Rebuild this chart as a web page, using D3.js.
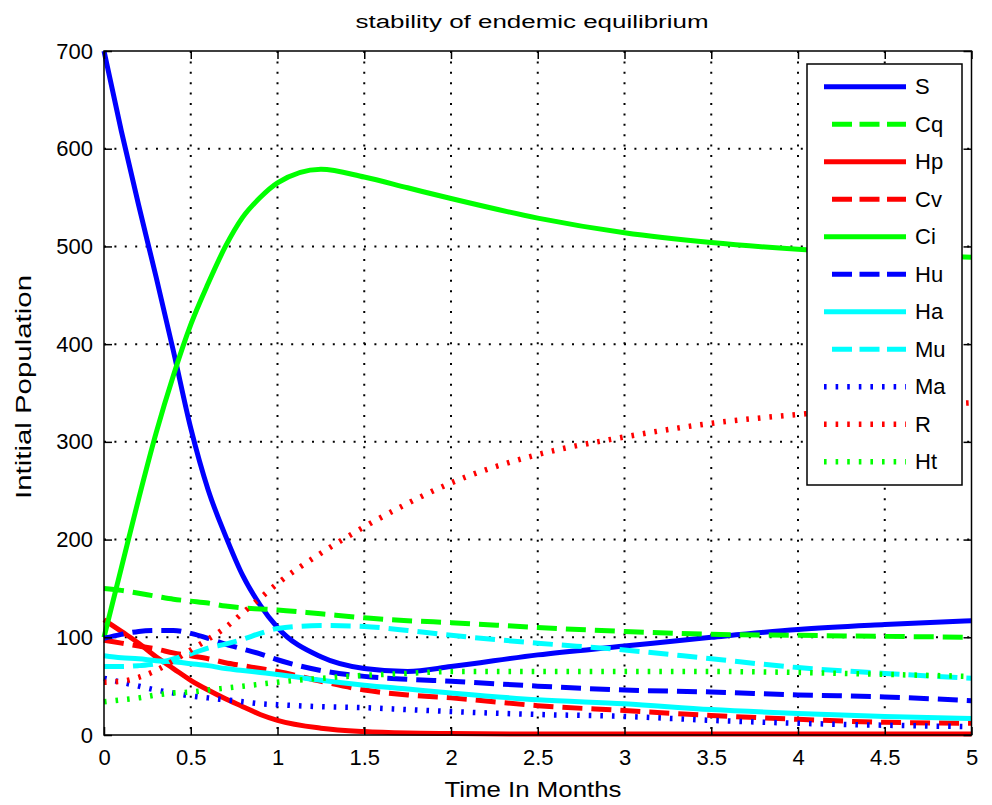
<!DOCTYPE html>
<html>
<head>
<meta charset="utf-8">
<script src="https://cdn.jsdelivr.net/npm/d3@7"></script>
<style>
body { margin: 0; background: #fff; }
text { font-family: "Liberation Sans", Arial, sans-serif; fill: #000; }
</style>
</head>
<body>
<div id="chart"></div>
<script>
// time grid (months) and the curves
const T  = [0, 0.1, 0.2, 0.3, 0.4, 0.5, 0.6, 0.7, 0.8, 0.9, 1, 1.25, 1.5, 1.75, 2, 2.5, 3, 3.5, 4, 4.5, 5]
const S  = [700, 618, 542, 469, 393, 314, 251, 204, 163, 133, 110, 80, 68, 65, 70, 82, 91, 100, 108, 113, 117]
const Cq = [150, 148, 145, 142, 139, 137, 135, 132, 130, 129, 128, 124, 120, 117, 115, 110, 106, 103, 102, 101, 100]
const Hp = [118, 106, 94, 80, 68, 56, 46, 37, 29, 21, 15, 7, 3.5, 2, 1.5, 1, 1, 1, 1, 1, 1]
const Cv = [97, 94, 91, 88, 84, 81, 78, 74, 71, 68, 65, 55, 46, 41, 38, 30, 25, 20, 16, 13, 12]
const Ci = [100, 171, 242, 309, 368, 420, 462, 500, 530, 550, 565, 579, 571, 560, 549, 529, 514, 504, 497, 492, 489]
const Hu = [99, 103, 106, 107, 107, 104, 99, 93, 88, 83, 77, 66, 60, 57, 55, 50, 46, 44, 41, 39, 35]
const Ha = [81, 79, 78, 76, 75, 73, 71, 68, 66, 64, 62, 56, 51, 47, 43, 36, 32, 26, 22, 19, 17]
const Mu = [70, 70, 71, 73, 78, 83, 89, 93, 98, 104, 109, 112, 111, 107, 102, 94, 87, 78, 69, 63, 58]
const Ma = [58, 54, 50, 46, 43, 40, 38, 36, 34, 32, 31, 29, 28, 26, 24, 21, 19, 15, 12, 10, 8.5]
const R  = [54, 55, 59, 66, 76, 87, 98, 110, 125, 140, 155, 186, 213, 237, 258, 287, 305, 319, 328, 335, 340]
const Ht = [34, 36, 38, 41, 43, 44, 46, 48, 50, 52, 54, 58, 61, 63, 65, 65, 65, 65, 64, 62, 60]

const names  = ["S", "Cq", "Hp", "Cv", "Ci", "Hu", "Ha", "Mu", "Ma", "R", "Ht"]
const values = [S, Cq, Hp, Cv, Ci, Hu, Ha, Mu, Ma, R, Ht]
const colors = ["#0000ff", "#00ff00", "#ff0000", "#ff0000", "#00ff00", "#0000ff", "#00ffff", "#00ffff", "#0000ff", "#ff0000", "#00ff00"]
const styles = ["solid", "dashed", "solid", "dashed", "solid", "dashed", "solid", "dashed", "dotted", "dotted", "dotted"]

const xTicks = [0, 0.5, 1, 1.5, 2, 2.5, 3, 3.5, 4, 4.5, 5]
const yTicks = [0, 100, 200, 300, 400, 500, 600, 700]

const W = 992, H = 805
const plotLeft = 104, plotRight = 971.5, plotTop = 51, plotBottom = 735

let svg = d3.select("#chart").append("svg")
        .attr("width", W)
        .attr("height", H)
svg.append("rect").attr("width", W).attr("height", H).attr("fill", "#fff")

let x = d3.scaleLinear().domain([0, 5]).range([plotLeft, plotRight])
let y = d3.scaleLinear().domain([0, 700]).range([plotBottom, plotTop])

// dotted grid
let grid = svg.append("g")
grid.selectAll(".vg").data(xTicks.slice(1, -1)).join("line")
    .attr("class", "vg")
    .attr("x1", d => x(d)).attr("x2", d => x(d))
    .attr("y1", plotTop).attr("y2", plotBottom)
grid.selectAll(".hg").data(yTicks.slice(1, -1)).join("line")
    .attr("class", "hg")
    .attr("x1", plotLeft).attr("x2", plotRight)
    .attr("y1", d => y(d)).attr("y2", d => y(d))
grid.selectAll("line")
    .attr("stroke", "#000")
    .attr("stroke-width", 2)
    .attr("stroke-dasharray", "2,8.4")

function dashFor(style){
    if(style == "dashed") return "20,9"
    if(style == "dotted") return "2.6,9"
    return null
}
function widthFor(style){
    if(style == "dashed") return 5
    if(style == "dotted") return 5.5
    return 5
}

let line = d3.line()
    .x((d, i) => x(T[i]))
    .y(d => y(d))
    .curve(d3.curveMonotoneX)

let plot = svg.append("g")
values.forEach((v, k) => {
    plot.append("path")
        .attr("d", line(v))
        .attr("fill", "none")
        .attr("stroke", colors[k])
        .attr("stroke-width", widthFor(styles[k]))
        .attr("stroke-dasharray", dashFor(styles[k]))
        .attr("stroke-linejoin", "round")
})

// axes box with inward ticks on all sides
let axisBottom = d3.axisBottom(x).tickValues(xTicks).tickSizeInner(-8).tickSizeOuter(0).tickPadding(14).tickFormat(d3.format("~g"))
let axisTop = d3.axisTop(x).tickValues(xTicks).tickSizeInner(-8).tickSizeOuter(0).tickFormat("")
let axisLeft = d3.axisLeft(y).tickValues(yTicks).tickSizeInner(-8).tickSizeOuter(0).tickPadding(11)
let axisRight = d3.axisRight(y).tickValues(yTicks).tickSizeInner(-8).tickSizeOuter(0).tickFormat("")

svg.append("g").attr("transform", "translate(0," + plotBottom + ")").call(axisBottom)
svg.append("g").attr("transform", "translate(0," + plotTop + ")").call(axisTop)
svg.append("g").attr("transform", "translate(" + plotLeft + ",0)").call(axisLeft)
svg.append("g").attr("transform", "translate(" + plotRight + ",0)").call(axisRight)
svg.selectAll(".domain").remove()
svg.selectAll(".tick line").attr("stroke", "#000").attr("stroke-width", 1.5)
svg.selectAll(".tick text").style("font-size", "22px").style("font-family", "Liberation Sans, Arial, sans-serif")

svg.append("rect")
   .attr("x", plotLeft).attr("y", plotTop)
   .attr("width", plotRight - plotLeft).attr("height", plotBottom - plotTop)
   .attr("fill", "none").attr("stroke", "#000").attr("stroke-width", 1.5)

// legend
let legend = svg.append("g")
legend.append("rect")
      .attr("x", 807).attr("y", 64)
      .attr("width", 155).attr("height", 421)
      .attr("fill", "#fff").attr("stroke", "#000").attr("stroke-width", 1.5)
names.forEach((n, k) => {
    let ly = 86.7 + k * 37.5
    legend.append("line")
          .attr("x1", styles[k] == "dashed" ? 832 : 824).attr("x2", 906)
          .attr("y1", ly).attr("y2", ly)
          .attr("stroke", colors[k])
          .attr("stroke-width", widthFor(styles[k]))
          .attr("stroke-dasharray", styles[k] == "dashed" ? "20,7.5" : dashFor(styles[k]))
    legend.append("text")
          .attr("x", 915).attr("y", ly)
          .attr("dominant-baseline", "central")
          .style("font-size", "22px")
          .text(n)
})

// title and axis labels
svg.append("text")
   .attr("x", 532).attr("y", 28)
   .attr("text-anchor", "middle")
   .attr("textLength", 353).attr("lengthAdjust", "spacingAndGlyphs")
   .style("font-size", "18px")
   .text("stability of endemic equilibrium")

svg.append("text")
   .attr("x", 533).attr("y", 797)
   .attr("text-anchor", "middle")
   .attr("textLength", 177).attr("lengthAdjust", "spacingAndGlyphs")
   .style("font-size", "22px")
   .text("Time In Months")

svg.append("text")
   .attr("transform", "translate(31,387) rotate(-90)")
   .attr("text-anchor", "middle")
   .attr("textLength", 224).attr("lengthAdjust", "spacingAndGlyphs")
   .style("font-size", "22px")
   .text("Intitial Population")
</script>
</body>
</html>
